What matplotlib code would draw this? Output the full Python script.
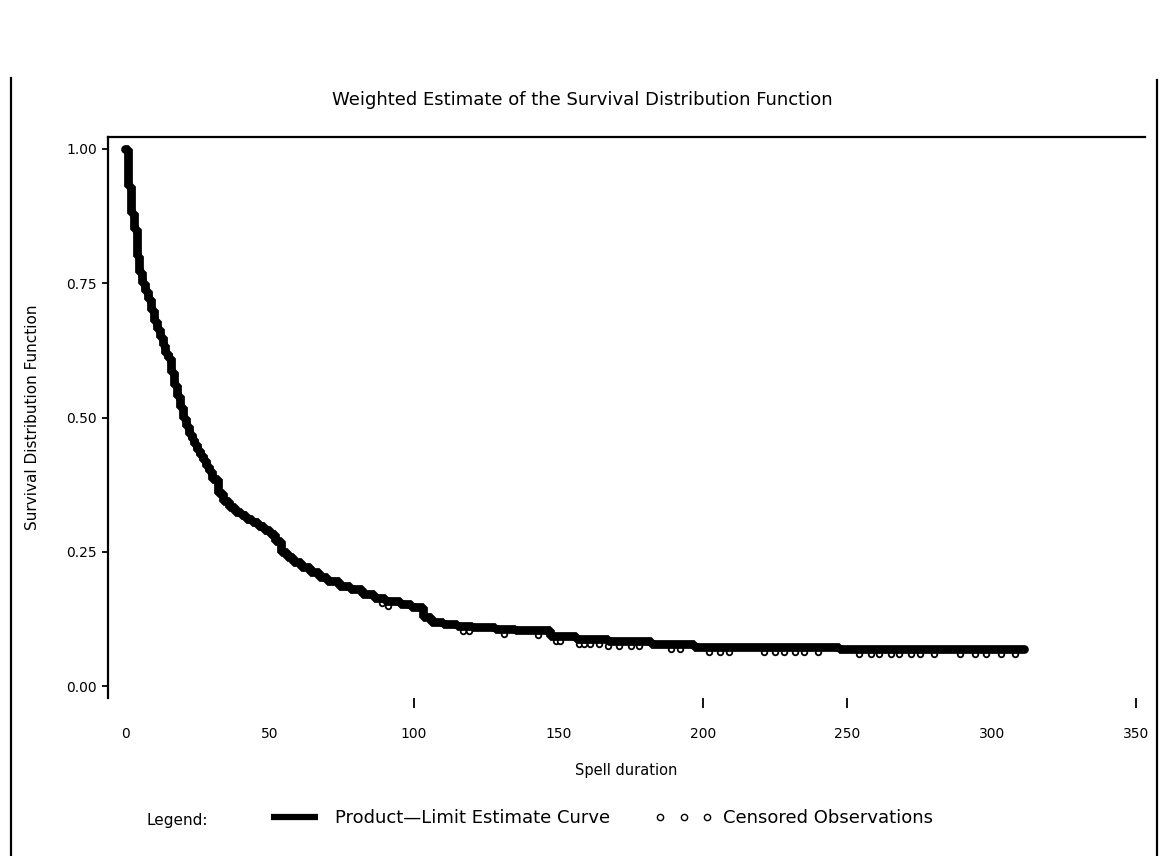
import numpy as np
import matplotlib
matplotlib.use("Agg")
import matplotlib.pyplot as plt
from matplotlib.lines import Line2D
from matplotlib.markers import MarkerStyle
from matplotlib.transforms import Affine2D

# ---- data ----
event_times = [0, 1, 2, 3, 4, 5, 6, 7, 8, 9,
               10, 11, 12, 13, 14, 15, 16, 17, 18, 19,
               20, 21, 22, 23, 24, 25, 26, 27, 28, 29,
               30, 32, 34, 36, 38, 40, 42, 44, 46, 48,
               50, 52, 54, 56, 58, 61, 64, 67, 70, 74,
               78, 82, 86, 90, 95, 99, 103, 106, 110, 115,
               120, 128, 135, 141, 147, 156, 167, 182, 197, 247]
survival = [1.00, 0.93, 0.88, 0.85, 0.80, 0.77, 0.75, 0.735, 0.72, 0.70,
            0.68, 0.665, 0.65, 0.635, 0.62, 0.61, 0.585, 0.56, 0.54, 0.52,
            0.50, 0.485, 0.47, 0.46, 0.45, 0.44, 0.43, 0.42, 0.41, 0.40,
            0.385, 0.36, 0.345, 0.333, 0.325, 0.318, 0.311, 0.305, 0.298, 0.291,
            0.283, 0.27, 0.25, 0.24, 0.232, 0.222, 0.212, 0.204, 0.195, 0.187,
            0.18, 0.172, 0.165, 0.158, 0.153, 0.147, 0.128, 0.12, 0.115, 0.112,
            0.11, 0.107, 0.105, 0.104, 0.093, 0.0875, 0.084, 0.078, 0.0726, 0.069]
end_time = 311
censored_times = [89, 91, 117, 119, 131, 143, 149, 150.5, 157, 159, 161, 164, 167,
                  171, 175, 178, 189, 192, 202, 206, 209, 221, 225, 228, 232,
                  235, 240, 254, 258, 261, 265, 268, 272, 275, 280, 289, 294,
                  298, 303, 308]

x_ticks = [0, 50, 100, 150, 200, 250, 300, 350]
x_marked_ticks = [100, 200, 250, 350]
y_ticks = [0.00, 0.25, 0.50, 0.75, 1.00]

title = "Weighted Estimate of the Survival Distribution Function"
xlabel = "Spell duration"
ylabel = "Survival Distribution Function"

# ---- figure ----
W, H = 1170, 856
fig = plt.figure(figsize=(W / 100, H / 100), dpi=100)
plt.rcParams['font.family'] = ['DejaVu Sans']

ax = fig.add_axes([108 / W, 1 - 698 / H, (1145 - 108) / W, (698 - 137) / H])

t = np.array(event_times + [end_time], dtype=float)
s = np.array(survival + [survival[-1]], dtype=float)

# censored marks hanging just under the curve
ct = np.array(censored_times, dtype=float)
idx = np.searchsorted(np.array(event_times, dtype=float), ct, side='right') - 1
cs = np.array(survival)[idx]
cmark = MarkerStyle('o', transform=Affine2D().translate(0, -0.9))
ax.plot(ct, cs, linestyle='none', marker=cmark, markersize=4.0,
        markerfacecolor='white', markeredgecolor='black', markeredgewidth=1.3,
        zorder=2)

ax.plot(t, s, drawstyle='steps-post', color='black', linewidth=6.3,
        solid_capstyle='round', solid_joinstyle='bevel', zorder=3)

ax.set_xlim(-5.9, 353)
ax.set_ylim(-0.022, 1.022)

for side in ['right', 'bottom']:
    ax.spines[side].set_visible(False)
for side in ['top', 'left']:
    ax.spines[side].set_linewidth(1.6)

ax.set_yticks(y_ticks)
ax.set_yticklabels([f"{v:.2f}" for v in y_ticks])
ax.tick_params(axis='y', length=4, width=1.3, pad=4, labelsize=10)

ax.xaxis.remove_overlapping_locs = False
ax.set_xticks(x_ticks)
ax.set_xticklabels([str(v) for v in x_ticks])
ax.set_xticks(x_marked_ticks, minor=True)
ax.tick_params(axis='x', which='major', length=0, pad=21, labelsize=10)
ax.tick_params(axis='x', which='minor', length=7, width=1.3, direction='out')

ax.set_xlabel(xlabel, fontsize=10.5, labelpad=16)
ax.set_ylabel(ylabel, fontsize=11, labelpad=19)

fig.text(0.498, 1 - 100 / H, title, ha='center', va='center', fontsize=13)

# outer page borders
fig.add_artist(Line2D([11 / W, 11 / W], [0, 1 - 78 / H], color='black', linewidth=1.6))
fig.add_artist(Line2D([1157 / W, 1157 / W], [0, 1 - 80 / H], color='black', linewidth=1.6))

# legend row
fig.text(146 / W, 1 - 820 / H, "Legend:", ha='left', va='center', fontsize=11)
handles = [Line2D([], [], color='black', linewidth=4.5, solid_capstyle='butt'),
           Line2D([], [], linestyle='none', marker='o', markersize=4.5,
                  markerfacecolor='white', markeredgecolor='black', markeredgewidth=1.0)]
labels = ["Product\u2014Limit Estimate Curve", "Censored Observations"]
fig.legend(handles, labels, loc='center left', bbox_to_anchor=(266 / W, 1 - 818 / H),
           ncol=2, frameon=False, fontsize=13, handlelength=3.2, handletextpad=0.6,
           columnspacing=2.5, numpoints=3, borderaxespad=0, borderpad=0)

fig.savefig("out.png", dpi=100, facecolor='white')
